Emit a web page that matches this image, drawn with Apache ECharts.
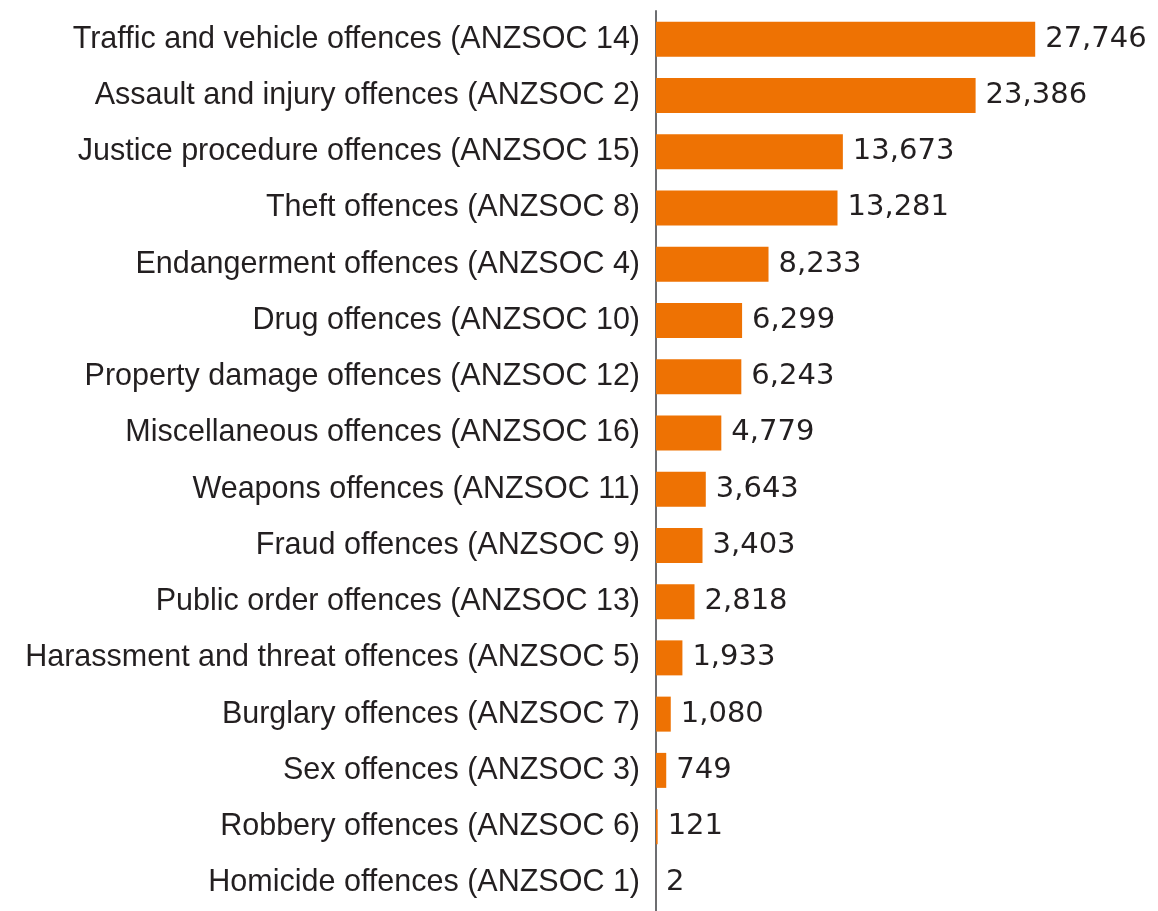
<!DOCTYPE html>
<html>
<head>
<meta charset="utf-8">
<style>
  html, body { margin: 0; padding: 0; background: #ffffff; }
  #chart { width: 1158px; height: 911px; }
</style>
<script src="https://cdn.jsdelivr.net/npm/echarts@6/dist/echarts.min.js"></script>
</head>
<body>
<div id="chart"></div>
<script>
// Offence categories, largest first
const categories = [
  'Traffic and vehicle offences (ANZSOC 14)',
  'Assault and injury offences (ANZSOC 2)',
  'Justice procedure offences (ANZSOC 15)',
  'Theft offences (ANZSOC 8)',
  'Endangerment offences (ANZSOC 4)',
  'Drug offences (ANZSOC 10)',
  'Property damage offences (ANZSOC 12)',
  'Miscellaneous offences (ANZSOC 16)',
  'Weapons offences (ANZSOC 11)',
  'Fraud offences (ANZSOC 9)',
  'Public order offences (ANZSOC 13)',
  'Harassment and threat offences (ANZSOC 5)',
  'Burglary offences (ANZSOC 7)',
  'Sex offences (ANZSOC 3)',
  'Robbery offences (ANZSOC 6)',
  'Homicide offences (ANZSOC 1)'
];

// Number of offences per category
const offenceCounts = [
  27746, 23386, 13673, 13281, 8233, 6299, 6243, 4779,
  3643, 3403, 2818, 1933, 1080, 749, 121, 2
];

const chart = echarts.init(document.getElementById('chart'), null, { renderer: 'canvas' });
const textColor = '#231f20';

chart.setOption({
  animation: false,
  grid: { left: 656, top: 11, width: 410, height: 906, containLabel: false },
  xAxis: {
    type: 'value',
    min: 0,
    max: 30000,
    show: false
  },
  yAxis: {
    type: 'category',
    data: categories,
    inverse: true,
    axisLine: { show: true, lineStyle: { color: '#6d6e71', width: 2 } },
    axisTick: { show: false },
    axisLabel: {
      color: textColor,
      fontSize: 30.5,
      fontFamily: '"Liberation Sans", Arial, sans-serif',
      margin: 16
    }
  },
  series: [{
    type: 'bar',
    data: offenceCounts,
    barWidth: 35,
    itemStyle: { color: '#ee7203' },
    label: {
      show: true,
      position: 'right',
      distance: 10,
      color: textColor,
      fontSize: 29,
      fontFamily: '"DejaVu Sans", sans-serif',
      formatter: p => p.value.toLocaleString('en-US')
    }
  }]
});
</script>
</body>
</html>
